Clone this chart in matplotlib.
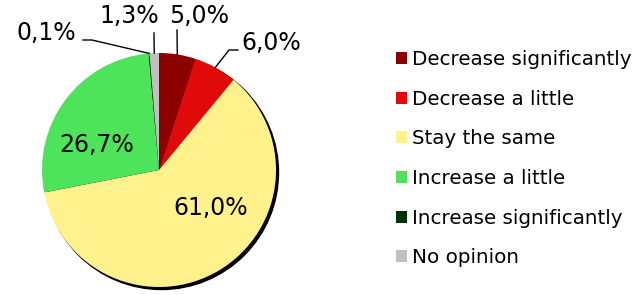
import numpy as np
import matplotlib.pyplot as plt
from matplotlib.patches import Circle, Patch

categories = ["Decrease significantly", "Decrease a little", "Stay the same",
              "Increase a little", "Increase significantly", "No opinion"]
values = [5.0, 6.0, 61.0, 26.7, 0.1, 1.3]
colors = ["#8c0000", "#e00a0a", "#fff28c", "#4de35a", "#003300", "#c0c0c0"]

W, H = 637, 295
cx, cy, R = 159, 170, 117   # pie centre / radius in pixels


def px(x, y):
    # pixel position -> data coords of the pie axes
    return (x - cx) / R, (cy - y) / R


fig = plt.figure(figsize=(W / 100, H / 100), dpi=100)
ax = fig.add_axes([(cx - R) / W, (H - cy - R) / H, 2 * R / W, 2 * R / H])

# shadow under the pie
ax.add_patch(Circle((2.5 / R, -2.5 / R), 1.0, color="black", zorder=0, clip_on=False))

wedges, _ = ax.pie(values, colors=colors, startangle=90, counterclock=False,
                   radius=1.0, wedgeprops=dict(linewidth=0))
for w in wedges:
    w.set_zorder(1)
    w.set_clip_on(False)

ax.set_xlim(-1, 1)
ax.set_ylim(-1, 1)
ax.set_aspect("equal")
ax.axis("off")


def fmt(v):
    return f"{v:.1f}%".replace(".", ",")


fs = 17
# inside labels
ax.text(*px(211, 208), fmt(values[2]), ha="center", va="center", fontsize=fs, zorder=3)
ax.text(*px(97, 145), fmt(values[3]), ha="center", va="center", fontsize=fs, zorder=3)

# outside labels with leader lines
cum = np.cumsum([0] + values[:-1])
mids = [90 - (c + v / 2) / sum(values) * 360 for c, v in zip(cum, values)]

outside = {
    0: ([(177, 30)], (199, 28), "center", "bottom"),
    1: ([(229, 50), (238, 50)], (241, 43), "left", "center"),
    4: ([(92, 40), (83, 40)], (46, 33), "center", "center"),
    5: ([(154, 33)], (129, 28), "center", "bottom"),
}
for i, (pts, tpos, ha, va) in outside.items():
    a = np.deg2rad(mids[i])
    xs = [np.cos(a)] + [px(*p)[0] for p in pts]
    ys = [np.sin(a)] + [px(*p)[1] for p in pts]
    ax.plot(xs, ys, color="black", lw=1, clip_on=False, zorder=2)
    ax.text(*px(*tpos), fmt(values[i]), ha=ha, va=va, fontsize=fs, clip_on=False)

handles = [Patch(facecolor=c, edgecolor="none") for c in colors]
fig.legend(handles, categories, loc="upper left",
           bbox_to_anchor=(396 / W, 1 - 50 / H), frameon=False, fontsize=14.3,
           handlelength=0.56, handleheight=0.56, handletextpad=0.27,
           labelspacing=1.04, borderpad=0, borderaxespad=0)

fig.savefig("out.png", dpi=100)
